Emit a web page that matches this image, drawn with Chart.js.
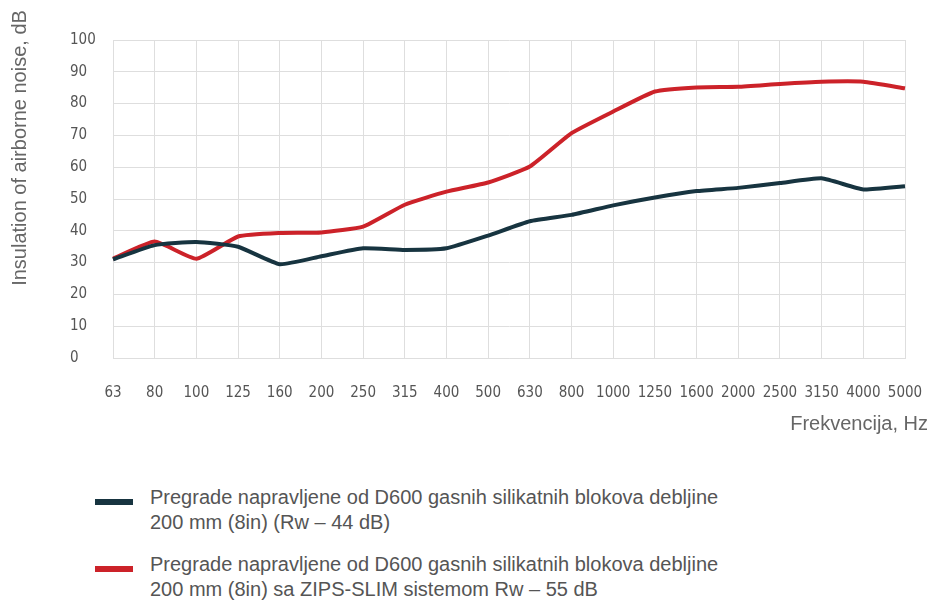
<!DOCTYPE html>
<html>
<head>
<meta charset="utf-8">
<script src="https://cdn.jsdelivr.net/npm/chart.js@4"></script>
<style>
  body { margin: 0; background: #fff; width: 931px; height: 601px; overflow: hidden; position: relative; font-family: "Liberation Sans", Arial, sans-serif; }
  #wrap { position: absolute; left: 0; top: 0; width: 931px; height: 440px; }
  .legend-item { position: absolute; left: 95px; }
  .legend-item .mark { position: absolute; left: 0; width: 38px; height: 6px; }
  .legend-item .text { position: absolute; left: 55px; width: 720px; font-size: 20px; line-height: 25px; color: #555; }
</style>
</head>
<body>
<div id="wrap"><canvas id="chart" width="931" height="440"></canvas></div>
<div id="legend"></div>
<script>
// frequency bands, Hz
const frequencies = ['63', '80', '100', '125', '160', '200', '250', '315', '400', '500',
  '630', '800', '1000', '1250', '1600', '2000', '2500', '3150', '4000', '5000'];

// insulation values, dB
const wallOnly = [31, 35.5, 36.5, 35, 29.5, 32, 34.5, 34, 34.5, 38.5,
  43, 45, 48, 50.5, 52.5, 53.5, 55, 56.5, 53, 54];
const wallZipsSlim = [31.2, 36.6, 31.2, 38.2, 39.3, 39.5, 41.3, 48.2, 52.3, 55.2,
  60.2, 70.7, 77.5, 83.8, 85.1, 85.3, 86.2, 86.9, 86.9, 84.8];

const yTicks = [0, 10, 20, 30, 40, 50, 60, 70, 80, 90, 100];

const seriesLabels = [
  ['Pregrade napravljene od D600 gasnih silikatnih blokova debljine', '200 mm (8in) (Rw \u2013 44 dB)'],
  ['Pregrade napravljene od D600 gasnih silikatnih blokova debljine', '200 mm (8in) sa ZIPS-SLIM sistemom Rw \u2013 55 dB']
];
const seriesColors = ['#173440', '#cc2229'];

const gridColor = '#dedede';
const tickFont = { family: '"DejaVu Sans Condensed"', size: 15 };

// axis titles drawn at the positions used in the original
const axisTitles = {
  id: 'axisTitles',
  afterDraw(chart) {
    const ctx = chart.ctx;
    ctx.save();
    ctx.fillStyle = '#666';
    ctx.font = '20px "Liberation Sans", Arial, sans-serif';
    ctx.textBaseline = 'middle';
    ctx.textAlign = 'right';
    ctx.fillText('Frekvencija, Hz', 928, 424);
    ctx.translate(20, 148);
    ctx.rotate(-Math.PI / 2);
    ctx.textAlign = 'center';
    ctx.fillText('Insulation of airborne noise, dB', 0, 0);
    ctx.restore();
  }
};

new Chart(document.getElementById('chart'), {
  type: 'line',
  data: {
    labels: frequencies,
    datasets: [
      { label: seriesLabels[0].join(' '), data: wallOnly, borderColor: seriesColors[0], borderWidth: 4, pointRadius: 0, tension: 0.15 },
      { label: seriesLabels[1].join(' '), data: wallZipsSlim, borderColor: seriesColors[1], borderWidth: 4, pointRadius: 0, tension: 0.15 }
    ]
  },
  options: {
    responsive: false,
    animation: false,
    layout: { padding: { left: 70, top: 40, right: 26, bottom: 0 } },
    plugins: { legend: { display: false }, tooltip: { enabled: false } },
    scales: {
      x: {
        offset: false,
        grid: { color: gridColor, drawTicks: false },
        border: { color: gridColor },
        ticks: { color: '#555', font: tickFont, padding: 26, autoSkip: false, maxRotation: 0 },
        afterFit(s) { s.height = 82; s.paddingLeft = 0; s.paddingRight = 0; }
      },
      y: {
        min: 0,
        max: 100,
        afterBuildTicks(s) { s.ticks = yTicks.map(v => ({ value: v })); },
        grid: { color: gridColor, drawTicks: false },
        border: { color: gridColor },
        ticks: { color: '#555', font: tickFont, crossAlign: 'far' },
        afterFit(s) { s.width = 43; }
      }
    }
  },
  plugins: [axisTitles]
});

// legend below the chart
const legend = document.getElementById('legend');
const legendTops = [485, 552];
seriesLabels.forEach((lines, i) => {
  const item = document.createElement('div');
  item.className = 'legend-item';
  item.style.top = legendTops[i] + 'px';
  const mark = document.createElement('div');
  mark.className = 'mark';
  mark.style.background = seriesColors[i];
  mark.style.top = '14px';
  const text = document.createElement('div');
  text.className = 'text';
  text.innerHTML = lines.join('<br>');
  item.appendChild(mark);
  item.appendChild(text);
  legend.appendChild(item);
});
</script>
</body>
</html>
